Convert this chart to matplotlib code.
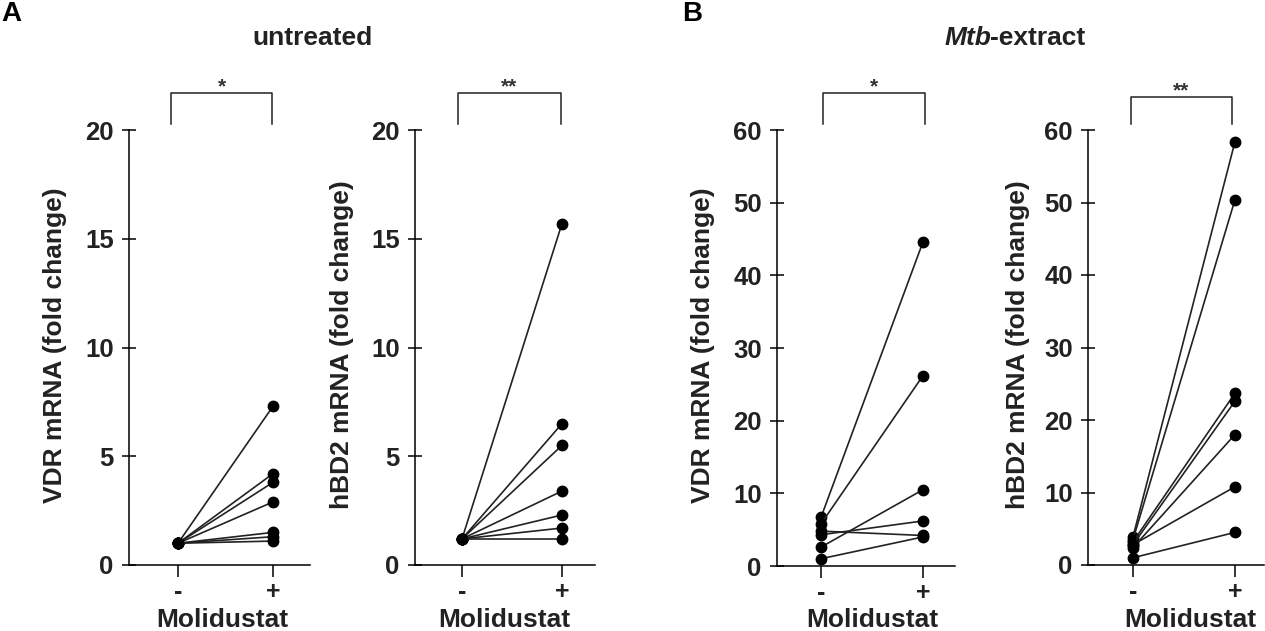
import matplotlib
matplotlib.use("Agg")
import matplotlib.pyplot as plt

plt.rcParams['font.family'] = ['Liberation Sans', 'DejaVu Sans']
plt.rcParams['font.weight'] = 'bold'
plt.rcParams['axes.labelweight'] = 'bold'

W, H = 1265, 631

# values
vdr_unt_minus = [1.0, 1.0, 1.0, 1.0, 1.0, 1.0, 1.0]
vdr_unt_plus = [7.3, 4.2, 3.8, 2.9, 1.5, 1.3, 1.1]
hbd2_unt_minus = [1.2, 1.2, 1.2, 1.2, 1.2, 1.2, 1.2]
hbd2_unt_plus = [15.7, 6.5, 5.5, 3.4, 2.3, 1.7, 1.2]
vdr_mtb_minus = [6.7, 5.8, 2.6, 4.3, 4.8, 1.0]
vdr_mtb_plus = [44.6, 26.2, 10.5, 6.2, 4.2, 4.0]
hbd2_mtb_minus = [3.9, 3.5, 3.2, 2.8, 2.4, 2.8, 1.0]
hbd2_mtb_plus = [58.4, 50.4, 23.7, 22.6, 18.0, 10.8, 4.5]

ticks_20 = [0, 5, 10, 15, 20]
ticks_60 = [0, 10, 20, 30, 40, 50, 60]

fig = plt.figure(figsize=(W / 100, H / 100), dpi=100)


def panel(minus, plus, ymax, yticks, ylabel, stars, axis_x, x_right, x0, x1, y_zero,
          br_left, br_right, br_top, lab_x, name_x):
    # all the x_ and y_ arguments are pixels in the picture
    ax = fig.add_axes([axis_x / W, 1 - y_zero / H, (x_right - axis_x) / W, (y_zero - 130) / H])
    ax.set_ylim(0, ymax)
    span = x1 - x0
    ax.set_xlim((axis_x - x0) / span, (x_right - x0) / span)

    for a, b in zip(minus, plus):
        ax.plot([0, 1], [a, b], color='#222222', lw=1.2, marker='o', ms=7.5,
                mfc='black', mec='black', clip_on=False, zorder=3)

    for s in ['top', 'right']:
        ax.spines[s].set_visible(False)
    for s in ['left', 'bottom']:
        ax.spines[s].set_linewidth(1.1)

    ax.set_yticks(yticks)
    ax.set_xticks([0, 1])
    ax.set_xticklabels(['-', '+'], fontsize=18)
    ax.tick_params(axis='y', direction='inout', length=10, width=1.1, labelsize=18.5, pad=6, labelcolor='#222222')
    ax.tick_params(axis='x', direction='out', length=8.5, width=1.1, pad=2, labelcolor='#222222')
    ax.set_ylabel(ylabel, fontsize=19, color='#222222', va='center')
    ax.yaxis.set_label_coords((lab_x - axis_x) / (x_right - axis_x), (y_zero - 345) / (y_zero - 130))
    fig.text(name_x / W, 1 - 620 / H, 'Molidustat', fontsize=19, ha='center', va='center', color='#222222')

    # significance bracket
    fig.add_artist(plt.Line2D([br_left / W, br_left / W, br_right / W, br_right / W],
                              [1 - 124 / H, 1 - br_top / H, 1 - br_top / H, 1 - 124 / H],
                              color='#222222', lw=1.1))
    fig.text((br_left + br_right) / 2 / W, 1 - (br_top - 6) / H, stars, ha='center', va='center',
             fontsize=15, color='#333333')
    return ax


panel(vdr_unt_minus, vdr_unt_plus, 20, ticks_20, 'VDR mRNA (fold change)', '*',
      129, 310, 178, 273, 565, 171, 272, 93, 55, 222)
panel(hbd2_unt_minus, hbd2_unt_plus, 20, ticks_20, 'hBD2 mRNA (fold change)', '**',
      415, 595, 462, 562, 565, 458, 561, 93, 342, 504)
panel(vdr_mtb_minus, vdr_mtb_plus, 60, ticks_60, 'VDR mRNA (fold change)', '*',
      777, 955, 821, 923, 566, 823, 925, 93, 703, 872)
panel(hbd2_mtb_minus, hbd2_mtb_plus, 60, ticks_60, 'hBD2 mRNA (fold change)', '**',
      1088, 1264, 1133, 1235, 565, 1131, 1232, 97, 1018, 1190)

fig.text(1 / W, 1 - 14 / H, 'A', fontsize=20, va='center', ha='left', color='black')
fig.text(682 / W, 1 - 14 / H, 'B', fontsize=20, va='center', ha='left', color='black')
fig.text(313 / W, 1 - 38 / H, 'untreated', fontsize=19, va='center', ha='center', color='#222222')
fig.text(945 / W, 1 - 38 / H, 'Mtb', fontsize=19, va='center', ha='left', style='italic', color='#222222')
fig.text(990 / W, 1 - 38 / H, '-extract', fontsize=19, va='center', ha='left', color='#222222')

fig.savefig('out.png', dpi=100)
